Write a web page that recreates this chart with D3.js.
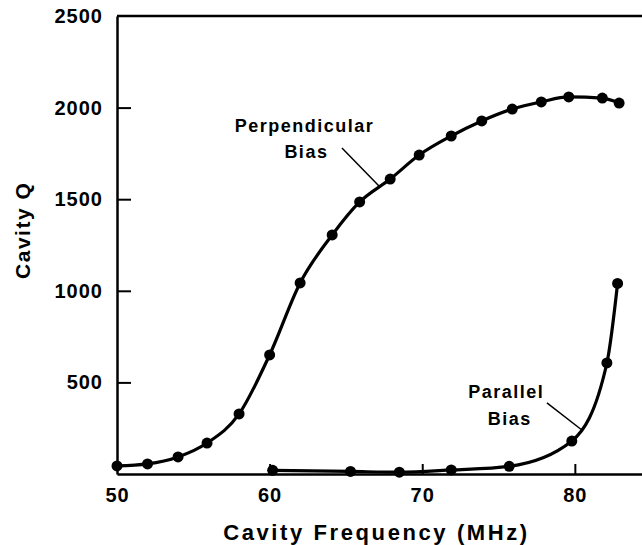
<!DOCTYPE html>
<html>
<head>
<meta charset="utf-8">
<script src="https://cdn.jsdelivr.net/npm/d3@7"></script>
<style>
  html, body { margin: 0; padding: 0; background: #fff; }
  svg { display: block; }
  .tick text, .lbl { font-family: "Liberation Sans", Arial, sans-serif; font-weight: bold; fill: #000; }
</style>
</head>
<body>
<svg id="chart" width="642" height="545"></svg>
<script>
// Cavity Q vs frequency
const perpFreq = [50, 52, 54, 55.9, 58, 60, 62, 64.1, 65.9, 67.9, 69.8, 71.9, 73.9, 75.9, 77.8, 79.6, 81.8, 82.9];
const perpQ    = [44, 55, 93, 169, 328, 650, 1043, 1305, 1485, 1610, 1741, 1845, 1927, 1992, 2031, 2058, 2052, 2025];

const paraFreq = [60.2, 65.3, 68.5, 71.9, 75.7, 79.8, 82.1, 82.8];
const paraQ    = [20, 14, 10, 22, 42, 180, 606, 1040];

const xTicks = [50, 60, 70, 80];
const yTicks = [500, 1000, 1500, 2000, 2500];

const svg = d3.select('#chart');

const x = d3.scaleLinear().domain([50, 84.4]).range([117, 642]);
const y = d3.scaleLinear().domain([0, 2500]).range([474, 16]);

// axes, ticks point inward
const yAxis = d3.axisLeft(y)
    .tickValues(yTicks)
    .tickSizeInner(-14)
    .tickSizeOuter(0)
    .tickPadding(14)
    .tickFormat(d3.format('d'));

const xAxis = d3.axisBottom(x)
    .tickValues(xTicks)
    .tickSizeInner(-10)
    .tickSizeOuter(0)
    .tickPadding(14);

const gy = svg.append('g').attr('transform', 'translate(' + x(50) + ',0)').call(yAxis);
const gx = svg.append('g').attr('transform', 'translate(0,' + y(0) + ')').call(xAxis);

[gx, gy].forEach(g => {
    g.select('.domain').attr('stroke', '#000').attr('stroke-width', 2.5);
    g.selectAll('.tick line').attr('stroke', '#000').attr('stroke-width', 2);
    g.selectAll('.tick text')
        .style('font-size', '20px')
        .style('letter-spacing', '1px');
});
gx.selectAll('.tick').filter(d => d === 50).select('line').remove();
gy.selectAll('.tick').filter(d => d === 2500).select('line').remove();

// top frame line
svg.append('line')
    .attr('x1', x(50)).attr('x2', x(84.4))
    .attr('y1', y(2500)).attr('y2', y(2500))
    .attr('stroke', '#000').attr('stroke-width', 2.5);

// axis titles
svg.append('text').attr('class', 'lbl')
    .attr('x', (x(50) + x(84.4)) / 2 - 3).attr('y', 540)
    .attr('text-anchor', 'middle')
    .style('font-size', '22px').style('letter-spacing', '2.6px')
    .text('Cavity Frequency (MHz)');

svg.append('text').attr('class', 'lbl')
    .attr('transform', 'translate(30,' + y(1330) + ') rotate(-90)')
    .attr('text-anchor', 'middle')
    .style('font-size', '21px').style('letter-spacing', '1.5px')
    .text('Cavity Q');

// curves + dots
const line = d3.line()
    .x(d => x(d[0]))
    .y(d => y(d[1]))
    .curve(d3.curveMonotoneX);

function drawSeries(freq, q) {
    const pts = freq.map((f, i) => [f, q[i]]);
    svg.append('path')
        .datum(pts)
        .attr('d', line)
        .attr('fill', 'none')
        .attr('stroke', '#000')
        .attr('stroke-width', 3.2);
    svg.append('g').selectAll('circle')
        .data(pts)
        .enter()
        .append('circle')
        .attr('cx', d => x(d[0]))
        .attr('cy', d => y(d[1]))
        .attr('r', 5.5)
        .attr('fill', '#000');
}

drawSeries(perpFreq, perpQ);
drawSeries(paraFreq, paraQ);

// annotations (positions in data units)
const notes = [
    { text: 'Perpendicular', f: 62.28, q: 1867 },
    { text: 'Bias', f: 62.41, q: 1725 },
    { text: 'Parallel', f: 75.51, q: 415 },
    { text: 'Bias', f: 75.74, q: 267 }
];
svg.selectAll('text.note')
    .data(notes)
    .enter()
    .append('text')
    .attr('class', 'lbl note')
    .attr('x', d => x(d.f))
    .attr('y', d => y(d.q))
    .attr('text-anchor', 'middle')
    .style('font-size', '18px')
    .style('letter-spacing', '1.5px')
    .text(d => d.text);

const leaders = [
    [[64.74, 1779], [67.23, 1567]],
    [[78.17, 388], [80.46, 240]]
];
svg.selectAll('line.leader')
    .data(leaders)
    .enter()
    .append('line')
    .attr('class', 'leader')
    .attr('x1', d => x(d[0][0])).attr('y1', d => y(d[0][1]))
    .attr('x2', d => x(d[1][0])).attr('y2', d => y(d[1][1]))
    .attr('stroke', '#000')
    .attr('stroke-width', 1.5);
</script>
</body>
</html>
